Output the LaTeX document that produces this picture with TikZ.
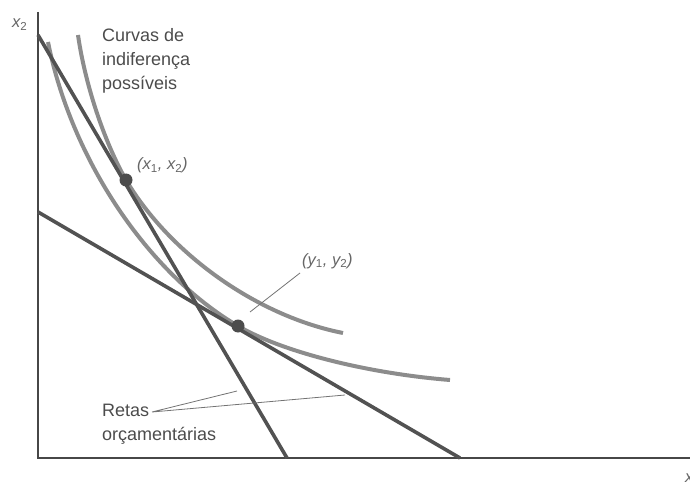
\documentclass[tikz,border=0pt]{standalone}
\usepackage{fontspec}
\setmainfont{Liberation Sans}
\begin{document}
\begin{tikzpicture}[x=1pt,y=-1pt,
  axis/.style={draw=black!72,line width=2.3pt},
  budget/.style={draw=black!68,line width=3.6pt},
  indiff/.style={draw=black!45,line width=4pt},
  leader/.style={draw=black!55,line width=0.8pt},
  lbl/.style={text=black!70,inner sep=0pt,font=\fontsize{18}{24}\selectfont},
  mlbl/.style={text=black!60,inner sep=0pt,font=\fontsize{16.5}{19}\selectfont\itshape},
  dot/.style={circle,fill=black!70,inner sep=0pt,minimum size=13pt}]
\useasboundingbox (0,0) rectangle (690,489);
% axes
\coordinate (O) at (38,458);
\coordinate (ytop) at (38,12);
\coordinate (xend) at (690,458);
\draw[axis] (ytop) -- (O) -- (xend);
\node[mlbl,anchor=base west] (x2lab) at (12,28) {x\textsubscript{\upshape 2}};
\node[mlbl,anchor=base west] (x1lab) at (685,482) {x\textsubscript{\upshape 1}};
% key points
\coordinate (X) at (126,180);
\coordinate (Y) at (238,326);
% indifference curves
\draw[indiff] (78,35) .. controls (85,84) and (104.2,141.8) .. (X)
  .. controls (170,254) and (257,316) .. (343,333);
\draw[indiff] (48,42) .. controls (71.4,159) and (147.4,272.7) .. (Y)
  .. controls (281.7,351.7) and (366.6,373.3) .. (450,380);
% budget lines
\coordinate (b1s) at (38,35);
\coordinate (b1e) at (287,458);
\coordinate (b2s) at (38,212);
\coordinate (b2e) at (460,458);
\draw[budget] (b1s) -- (b1e);
\draw[budget] (b2s) -- (b2e);
% points
\node[dot] (Xdot) at (X) {};
\node[dot] (Ydot) at (Y) {};
\node[mlbl,anchor=base west] (xlab) at (137,170) {(x\textsubscript{\upshape 1}, x\textsubscript{\upshape 2})};
\node[mlbl,anchor=base west] (ylab) at (302,265) {(y\textsubscript{\upshape 1}, y\textsubscript{\upshape 2})};
\coordinate (yl) at (300,273);
\coordinate (yle) at (250,312);
\draw[leader] (yl) -- (yle);
% text labels
\node[lbl,anchor=base west] (c1) at (102,42) {Curvas de};
\node[lbl,anchor=base west] (c2) at (102,66) {indiferença};
\node[lbl,anchor=base west] (c3) at (102,90) {possíveis};
\node[lbl,anchor=base west] (r1) at (102,416) {Retas};
\node[lbl,anchor=base west] (r2) at (102,440) {orçamentárias};
\coordinate (rl) at (152,412);
\coordinate (rl1) at (237,391);
\coordinate (rl2) at (345,395);
\draw[leader] (rl1) -- (rl) -- (rl2);
\end{tikzpicture}
\end{document}
